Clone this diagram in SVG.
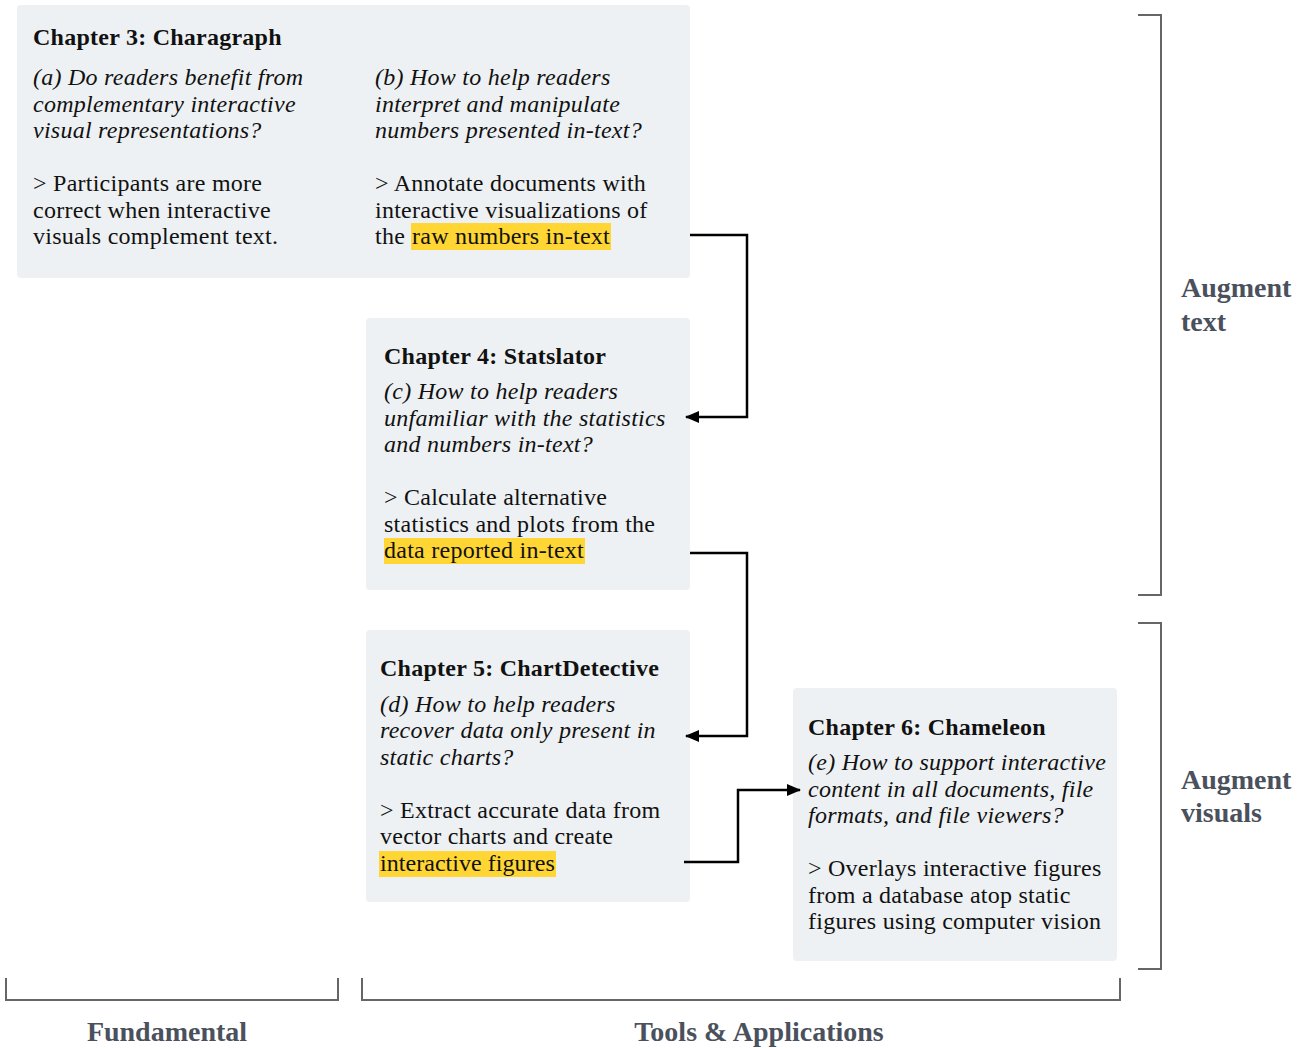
<svg xmlns="http://www.w3.org/2000/svg" width="1307" height="1048" viewBox="0 0 1307 1048">
<style>
.box{fill:#eef1f4}
.t{font-family:"Liberation Serif","Times New Roman",serif;font-size:24px;fill:#111;letter-spacing:0.25px}
.b{font-weight:bold}
.i{font-style:italic}
.hl{fill:#ffd633}
.conn{fill:none;stroke:#000;stroke-width:2.5}
.br{fill:none;stroke:#666;stroke-width:2}
.lab{font-family:"Liberation Serif","Times New Roman",serif;font-size:28px;font-weight:bold;fill:#4a515c}
</style>
<defs>
<marker id="ah" markerUnits="userSpaceOnUse" markerWidth="14" markerHeight="12" refX="13" refY="6" orient="auto">
<path d="M0,0 L14,6 L0,12 Z" fill="#000"/>
</marker>
</defs>
<rect width="1307" height="1048" fill="#fff"/>

<g id="ch3">
<rect class="box" x="17" y="5" width="673" height="273" rx="4"/>
<text class="t b" x="33" y="45">Chapter 3: Charagraph</text>
<text class="t i" x="33" y="85">(a) Do readers benefit from</text>
<text class="t i" x="33" y="112">complementary interactive</text>
<text class="t i" x="33" y="138">visual representations?</text>
<text class="t" x="33" y="191">&gt; Participants are more</text>
<text class="t" x="33" y="218">correct when interactive</text>
<text class="t" x="33" y="244">visuals complement text.</text>
<text class="t i" x="375" y="85">(b) How to help readers</text>
<text class="t i" x="375" y="112">interpret and manipulate</text>
<text class="t i" x="375" y="138">numbers presented in-text?</text>
<text class="t" x="375" y="191">&gt; Annotate documents with</text>
<text class="t" x="375" y="218">interactive visualizations of</text>
<rect class="hl" x="411" y="223" width="200" height="27"/>
<text class="t" x="375" y="244">the </text>
<text class="t" x="412" y="244" textLength="198">raw numbers in-text</text>
</g>

<g id="ch4">
<rect class="box" x="366" y="318" width="324" height="272" rx="4"/>
<text class="t b" x="384" y="364">Chapter 4: Statslator</text>
<text class="t i" x="384" y="399">(c) How to help readers</text>
<text class="t i" x="384" y="426">unfamiliar with the statistics</text>
<text class="t i" x="384" y="452">and numbers in-text?</text>
<text class="t" x="384" y="505">&gt; Calculate alternative</text>
<text class="t" x="384" y="532">statistics and plots from the</text>
<rect class="hl" x="384" y="538" width="201" height="26"/>
<text class="t" x="384" y="558" textLength="200">data reported in-text</text>
</g>

<g id="ch5">
<rect class="box" x="366" y="630" width="324" height="272" rx="4"/>
<text class="t b" x="380" y="676">Chapter 5: ChartDetective</text>
<text class="t i" x="380" y="712">(d) How to help readers</text>
<text class="t i" x="380" y="738">recover data only present in</text>
<text class="t i" x="380" y="765">static charts?</text>
<text class="t" x="380" y="818">&gt; Extract accurate data from</text>
<text class="t" x="380" y="844">vector charts and create</text>
<rect class="hl" x="379" y="851" width="177" height="26"/>
<text class="t" x="380" y="871" textLength="175">interactive figures</text>
</g>

<g id="ch6">
<rect class="box" x="793" y="688" width="324" height="273" rx="4"/>
<text class="t b" x="808" y="735">Chapter 6: Chameleon</text>
<text class="t i" x="808" y="770">(e) How to support interactive</text>
<text class="t i" x="808" y="797">content in all documents, file</text>
<text class="t i" x="808" y="823">formats, and file viewers?</text>
<text class="t" x="808" y="876">&gt; Overlays interactive figures</text>
<text class="t" x="808" y="903">from a database atop static</text>
<text class="t" x="808" y="929">figures using computer vision</text>
</g>

<g id="connectors">
<path class="conn" d="M690,235 H747 V417 H686" marker-end="url(#ah)"/>
<path class="conn" d="M690,553 H747 V736 H686" marker-end="url(#ah)"/>
<path class="conn" d="M684,862 H738 V790 H800" marker-end="url(#ah)"/>
</g>

<g id="brackets">
<path class="br" d="M1138,15 H1161 V595 H1138"/>
<path class="br" d="M1138,623 H1161 V969 H1138"/>
<path class="br" d="M6,978 V1000 H338 V978"/>
<path class="br" d="M362,978 V1000 H1120 V978"/>
</g>

<g id="labels">
<text class="lab" x="1181" y="297">Augment</text>
<text class="lab" x="1181" y="331">text</text>
<text class="lab" x="1181" y="789">Augment</text>
<text class="lab" x="1181" y="822">visuals</text>
<text class="lab" x="167" y="1041" text-anchor="middle">Fundamental</text>
<text class="lab" x="759" y="1041" text-anchor="middle">Tools &amp; Applications</text>
</g>
</svg>
